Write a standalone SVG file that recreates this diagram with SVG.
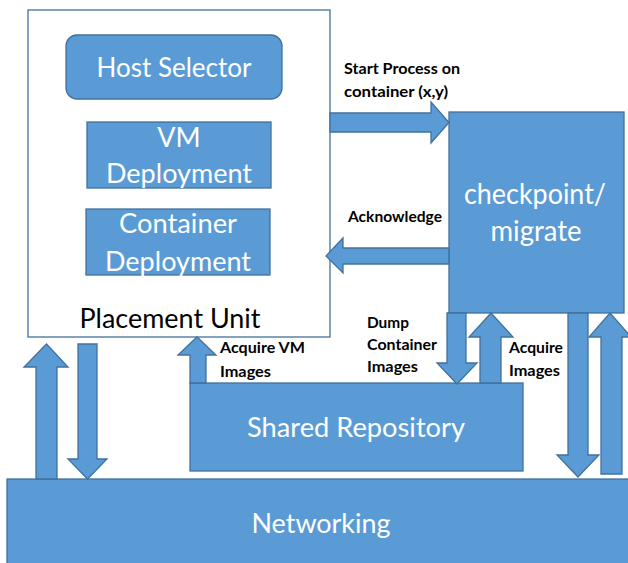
<svg xmlns="http://www.w3.org/2000/svg" width="628" height="563" viewBox="0 0 628 563">
<style>
.box{fill:#5B9BD5;stroke:#41719C;stroke-width:1.3}
.frame{fill:#FFFFFF;stroke:#41719C;stroke-width:1.3}
.arr{fill:#5B9BD5;stroke:#41719C;stroke-width:1.3;stroke-linejoin:miter}
.wt{fill:#FFFFFF;font-family:Lato,"Open Sans","Liberation Sans",sans-serif;text-anchor:middle}
.bt{fill:#000000;font-family:Lato,"Liberation Sans",sans-serif;font-weight:bold;font-size:15.5px}
</style>
<rect x="0" y="0" width="628" height="563" fill="#FFFFFF"/>
<g id="placement-unit">
<rect class="frame" x="28" y="10" width="302" height="327"/>
<text x="170" y="328" font-family="Lato,'Liberation Sans',sans-serif" font-size="26" fill="#000" text-anchor="middle" textLength="181" lengthAdjust="spacingAndGlyphs">Placement Unit</text>
</g>
<g id="host-selector">
<rect class="box" x="66" y="35" width="216" height="64" rx="11"/>
<text class="wt" x="174" y="77" font-size="27" textLength="155" lengthAdjust="spacingAndGlyphs">Host Selector</text>
</g>
<g id="vm-deployment">
<rect class="box" x="87" y="122" width="184" height="66"/>
<text class="wt" x="179" y="147" font-size="27">VM</text>
<text class="wt" x="179" y="183" font-size="27" textLength="146" lengthAdjust="spacingAndGlyphs">Deployment</text>
</g>
<g id="container-deployment">
<rect class="box" x="86" y="209" width="184" height="66"/>
<text class="wt" x="178" y="233" font-size="27" textLength="118" lengthAdjust="spacingAndGlyphs">Container</text>
<text class="wt" x="178" y="271" font-size="27" textLength="146" lengthAdjust="spacingAndGlyphs">Deployment</text>
</g>
<g id="checkpoint-migrate">
<rect class="box" x="449" y="112" width="175" height="201"/>
<text class="wt" x="535" y="204" font-size="28" textLength="142" lengthAdjust="spacingAndGlyphs">checkpoint/</text>
<text class="wt" x="536" y="241" font-size="28" textLength="91" lengthAdjust="spacingAndGlyphs">migrate</text>
</g>
<g id="shared-repository">
<rect class="box" x="190" y="383" width="333" height="88"/>
<text class="wt" x="356" y="437" font-size="27" textLength="218" lengthAdjust="spacingAndGlyphs">Shared Repository</text>
</g>
<g id="networking">
<rect class="box" x="7" y="479" width="625" height="90"/>
<text class="wt" x="321" y="533" font-size="27" textLength="139" lengthAdjust="spacingAndGlyphs">Networking</text>
</g>
<g id="connectors">
<polygon class="arr" points="330,113 431,113 431,102 449,122.5 431,143 431,132 330,132"/>
<polygon class="arr" points="449,248 343,248 343,238 326,256 343,273 343,264 449,264"/>
<polygon class="arr" points="36,479 36,367 24,367 46.5,344 68,367 57,367 57,479"/>
<polygon class="arr" points="78,344 97,344 97,459 107,459 87.5,479 68,459 78,459"/>
<polygon class="arr" points="190,383 190,355 178,355 197,337 216,355 206,355 206,383"/>
<polygon class="arr" points="447,313 466,313 466,363 477,363 457,384 437,363 447,363"/>
<polygon class="arr" points="480,383 480,337 469,337 491,313 513,337 501,337 501,383"/>
<polygon class="arr" points="568,313 588,313 588,455 599,455 578,477 557,455 568,455"/>
<polygon class="arr" points="601,474 601,337 589,337 610,313 631,337 622,337 622,474"/>
</g>
<g id="labels">
<text class="bt" x="344" y="74" textLength="116" lengthAdjust="spacingAndGlyphs">Start Process on</text>
<text class="bt" x="344" y="97" textLength="104" lengthAdjust="spacingAndGlyphs">container (x,y)</text>
<text class="bt" x="348" y="222" textLength="94" lengthAdjust="spacingAndGlyphs">Acknowledge</text>
<text class="bt" x="367" y="328" textLength="42" lengthAdjust="spacingAndGlyphs">Dump</text>
<text class="bt" x="367" y="350" textLength="70" lengthAdjust="spacingAndGlyphs">Container</text>
<text class="bt" x="367" y="372" textLength="51" lengthAdjust="spacingAndGlyphs">Images</text>
<text class="bt" x="220" y="353" textLength="85" lengthAdjust="spacingAndGlyphs">Acquire VM</text>
<text class="bt" x="220" y="377" textLength="51" lengthAdjust="spacingAndGlyphs">Images</text>
<text class="bt" x="509" y="353" textLength="54" lengthAdjust="spacingAndGlyphs">Acquire</text>
<text class="bt" x="509" y="376" textLength="51" lengthAdjust="spacingAndGlyphs">Images</text>
</g>
</svg>
